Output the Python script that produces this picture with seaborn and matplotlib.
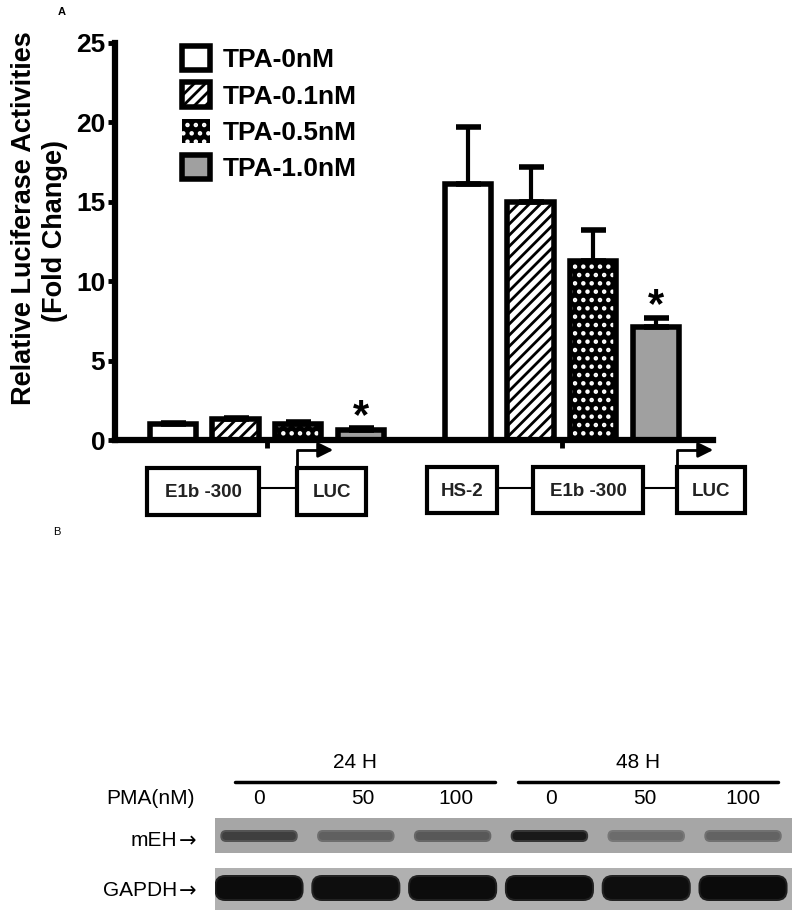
import numpy as np
import pandas as pd
import matplotlib
matplotlib.use("Agg")
import matplotlib.pyplot as plt
import seaborn as sns
from matplotlib.patches import Rectangle, FancyBboxPatch, Patch

# -----------------------------------
# Data (panel A: luciferase, panel B: western blot)
# -----------------------------------

constructs = ["E1b-300", "HS-2/E1b-300"]
doses = ["TPA-0nM", "TPA-0.1nM", "TPA-0.5nM", "TPA-1.0nM"]

e1b_mean = [1.0, 1.3, 1.0, 0.65]
e1b_err = [0.1, 0.1, 0.15, 0.1]
hs2_mean = [16.1, 15.0, 11.3, 7.1]
hs2_err = [3.6, 2.2, 1.9, 0.6]
significant = ["TPA-1.0nM"]

pma_lanes = ["0", "50", "100", "0", "50", "100"]
time_groups = ["24 H", "48 H"]
meh_band = [0.62, 0.42, 0.47, 0.85, 0.35, 0.40]
gapdh_band = [0.93, 0.92, 0.93, 0.93, 0.92, 0.94]

df = pd.DataFrame({
    "construct": np.repeat(constructs, len(doses)),
    "dose": doses * len(constructs),
    "fold": e1b_mean + hs2_mean,
    "err": e1b_err + hs2_err,
})

# -----------------------------------
# Figure setup
# -----------------------------------

sns.set_style("ticks")
plt.rcParams["font.family"] = ["Liberation Sans", "DejaVu Sans"]
plt.rcParams["hatch.linewidth"] = 2.0
plt.rcParams["text.color"] = "black"
plt.rcParams["axes.edgecolor"] = "black"
plt.rcParams["xtick.color"] = "black"
plt.rcParams["ytick.color"] = "black"

W, H = 800, 916
fig = plt.figure(figsize=(W / 100, H / 100), dpi=100)


def frac_box(x0, y0, x1, y1):
    return [x0 / W, 1 - y1 / H, (x1 - x0) / W, (y1 - y0) / H]


# overlay in pixel coordinates for labels and promoter diagrams
over = fig.add_axes([0, 0, 1, 1], zorder=5)
over.set_xlim(0, W)
over.set_ylim(H, 0)
over.axis("off")

# -----------------------------------
# Panel A: bar chart
# -----------------------------------

ax = fig.add_axes(frac_box(115, 43, 713, 440))

fills = {"TPA-0nM": "white", "TPA-0.1nM": "white",
         "TPA-0.5nM": "black", "TPA-1.0nM": "#a0a0a0"}

sns.barplot(
    data=df,
    x="construct",
    y="fold",
    hue="dose",
    order=constructs,
    hue_order=doses,
    palette=fills,
    errorbar=None,
    width=0.85,
    gap=0.26,
    edgecolor="black",
    linewidth=4,
    legend=False,
    ax=ax,
)

ax.set_xlim(-0.515, 1.512)
ax.set_ylim(0, 25)

for container, dose in zip(ax.containers, doses):
    errs = df.loc[df["dose"] == dose, "err"].values
    centers = []
    tops = []
    for bar in container.patches:
        centers.append(bar.get_x() + bar.get_width() / 2)
        tops.append(bar.get_height())
        if dose == "TPA-0.1nM":
            bar.set_hatch("///")
        if dose == "TPA-0.5nM":
            bar.set_edgecolor("white")
            bar.set_linewidth(0)
            bar.set_hatch("..")
            ax.add_patch(Rectangle(
                (bar.get_x(), bar.get_y()),
                bar.get_width(),
                bar.get_height(),
                fill=False,
                edgecolor="black",
                linewidth=4,
                zorder=3,
            ))
    centers = np.array(centers)
    tops = np.array(tops)
    ax.errorbar(
        centers, tops,
        yerr=[np.zeros_like(errs), errs],
        fmt="none", ecolor="black",
        elinewidth=3, capsize=9, capthick=4, zorder=2,
    )
    if dose in significant:
        for cx, top, e in zip(centers, tops, errs):
            ax.text(cx, top + e - 0.55, "*", ha="center", va="bottom",
                    fontsize=30, fontweight="bold")

ax.spines[["top", "right"]].set_visible(False)
ax.spines["left"].set_linewidth(4.5)
ax.spines["bottom"].set_linewidth(4.5)
ax.set_yticks([0, 5, 10, 15, 20, 25])
ax.tick_params(axis="y", length=5, width=3.5, labelsize=19, pad=2)
for lbl in ax.get_yticklabels():
    lbl.set_fontweight("bold")
ax.tick_params(axis="x", length=6, width=3.5, labelbottom=False)
ax.set_xlabel("")
ax.set_ylabel("")

handles = []
for dose in doses:
    if dose == "TPA-0.5nM":
        handles.append(Patch(facecolor="black", edgecolor="white",
                             linewidth=0, hatch=".."))
    elif dose == "TPA-0.1nM":
        handles.append(Patch(facecolor="white", edgecolor="black",
                             linewidth=4, hatch="///"))
    else:
        handles.append(Patch(facecolor=fills[dose], edgecolor="black",
                             linewidth=4))

ax.legend(
    handles, doses,
    loc="upper left",
    bbox_to_anchor=(182 / W, 1 - 46 / H),
    bbox_transform=fig.transFigure,
    frameon=False,
    prop={"size": 19, "weight": "bold"},
    handlelength=1.05,
    handleheight=1.05,
    handletextpad=0.5,
    labelspacing=0.38,
    borderpad=0,
    borderaxespad=0,
)

# y label as two lines
over.text(24, 218, "Relative Luciferase Activities", rotation=90,
          ha="center", va="center", fontsize=19.5, fontweight="bold")
over.text(55, 231, "(Fold Change)", rotation=90,
          ha="center", va="center", fontsize=19.5, fontweight="bold")

over.text(62, 12, "A", ha="center", va="center", fontsize=8, fontweight="bold")
over.text(57, 532, "B", ha="center", va="center", fontsize=8)

# -----------------------------------
# Promoter diagrams
# -----------------------------------


def box(x0, y0, x1, y1, label):
    over.add_patch(Rectangle((x0, y0), x1 - x0, y1 - y0, fill=False,
                             edgecolor="black", linewidth=3))
    over.text((x0 + x1) / 2, (y0 + y1) / 2 + 1, label, ha="center",
              va="center", fontsize=13.5, fontweight="bold", color="#222222")


def tss(x, y_top, x_end):
    over.plot([x, x, x_end - 10], [y_top, 450, 450], color="black", lw=2)
    over.annotate("", xy=(x_end, 450), xytext=(x_end - 14, 450),
                  arrowprops=dict(arrowstyle="-|>,head_length=0.9,head_width=0.45",
                                  color="black", lw=2))


box(147, 468, 259, 515, "E1b -300")
box(297, 468, 366, 515, "LUC")
over.plot([259, 297], [488, 488], color="black", lw=1.5)
tss(297, 468, 336)

box(427, 467, 497, 513, "HS-2")
box(533, 467, 643, 513, "E1b -300")
box(677, 467, 745, 513, "LUC")
over.plot([497, 533], [488, 488], color="black", lw=1.5)
over.plot([643, 677], [488, 488], color="black", lw=1.5)
tss(677, 467, 716)

# -----------------------------------
# Panel B: western blot
# -----------------------------------

ax_b = fig.add_axes(frac_box(215, 818, 792, 910))
ax_b.set_xlim(-0.455, 5.506)
ax_b.set_ylim(910, 818)
ax_b.axis("off")

meh_bg = 0.65
gapdh_bg = 0.69
ax_b.add_patch(Rectangle((-0.455, 818), 5.96, 35, color=str(meh_bg), lw=0))
ax_b.add_patch(Rectangle((-0.455, 868), 5.96, 42, color=str(gapdh_bg), lw=0))

for i, d in enumerate(meh_band):
    # soft halo then band core
    ax_b.add_patch(FancyBboxPatch(
        (i - 0.40, 830), 0.80, 12,
        boxstyle="round,pad=0,rounding_size=0.06",
        mutation_aspect=96.8,
        color=str(meh_bg * (1 - 0.8 * d)), lw=0))
    ax_b.add_patch(FancyBboxPatch(
        (i - 0.38, 832), 0.76, 8,
        boxstyle="round,pad=0,rounding_size=0.04",
        mutation_aspect=96.8,
        color=str(meh_bg * (1 - d)), lw=0))

for i, d in enumerate(gapdh_band):
    ax_b.add_patch(FancyBboxPatch(
        (i - 0.46, 875), 0.92, 26,
        boxstyle="round,pad=0,rounding_size=0.11",
        mutation_aspect=96.8,
        color=str(gapdh_bg * (1 - 0.88 * d)), lw=0))
    ax_b.add_patch(FancyBboxPatch(
        (i - 0.44, 877), 0.88, 22,
        boxstyle="round,pad=0,rounding_size=0.09",
        mutation_aspect=96.8,
        color=str(gapdh_bg * (1 - d)), lw=0))

lane_px = [259, 363, 456, 551, 645, 743]
for x, lab in zip(lane_px, pma_lanes):
    over.text(x, 799, lab, ha="center", va="center", fontsize=15)

over.text(195, 799, "PMA(nM)", ha="right", va="center", fontsize=15)
for y, lab in [(841, "mEH"), (891, "GAPDH")]:
    over.text(177, y, lab, ha="right", va="center", fontsize=15)
    over.text(196, y, "\u2192", ha="right", va="center", fontsize=15,
              family="DejaVu Sans")

for (x0, x1), lab in zip([(235, 495), (518, 778)], time_groups):
    over.plot([x0, x1], [782, 782], color="black", lw=2.5)
    over.text((x0 + x1) / 2 - 10, 762, lab, ha="center", va="center",
              fontsize=15)

fig.savefig("out.png", dpi=100)
